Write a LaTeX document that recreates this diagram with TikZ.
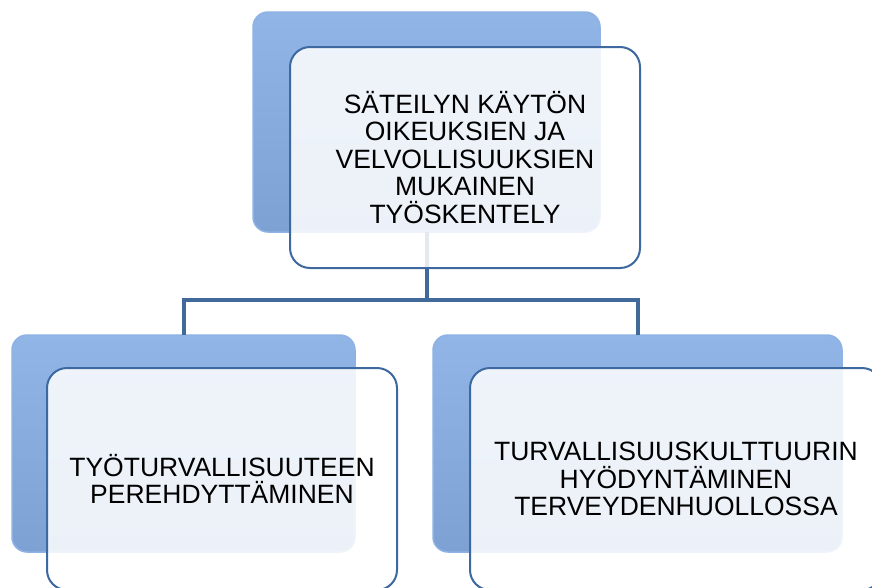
\documentclass[tikz,border=0pt]{standalone}
\usepackage{fontspec}
\setmainfont{Liberation Sans}
\definecolor{backtop}{HTML}{91B5E6}
\definecolor{backbot}{HTML}{7EA1D4}
\definecolor{backedge}{HTML}{8EB2E3}
\definecolor{frontedge}{HTML}{3D68A0}
\definecolor{conn}{HTML}{41699A}
\begin{document}
\begin{tikzpicture}[x=1pt,y=-1pt,
  backbox/.style={rectangle, rounded corners=15pt, top color=backtop, bottom color=backbot,
    draw=backedge, line width=1.5pt, inner sep=0pt, outer sep=0pt},
  frontbox/.style={rectangle, rounded corners=20pt, draw=frontedge, line width=2pt,
    fill=white, fill opacity=0.86, text opacity=1, inner sep=4pt, outer sep=0pt,
    align=center, font=\fontsize{26.5}{27.5}\selectfont},
  connector/.style={draw=conn, line width=4pt}]
\useasboundingbox (0,0) rectangle (872,587);
% back boxes
\node[backbox, minimum width=347pt, minimum height=220pt] (topback) at (426.5,122) {};
\node[backbox, minimum width=343pt, minimum height=217pt] (leftback) at (183.5,443.5) {};
\node[backbox, minimum width=409pt, minimum height=217pt] (rightback) at (637.5,443.5) {};
% connectors
\coordinate (hub) at (426.5,300);
\draw[connector] (topback.south) -- (hub) -| (leftback.north);
\draw[connector] (hub) -| (rightback.north);
% front boxes
\node[frontbox, minimum width=350pt, minimum height=221pt] (top) at (465,157.5)
  {SÄTEILYN KÄYTÖN\\OIKEUKSIEN JA\\VELVOLLISUUKSIEN\\MUKAINEN\\TYÖSKENTELY};
\node[frontbox, minimum width=350pt, minimum height=222pt] (left) at (222,479)
  {TYÖTURVALLISUUTEEN\\PEREHDYTTÄMINEN};
\node[frontbox, minimum width=412pt, minimum height=222pt] (right) at (676,479)
  {TURVALLISUUSKULTTUURIN\\HYÖDYNTÄMINEN\\TERVEYDENHUOLLOSSA};
\end{tikzpicture}
\end{document}
